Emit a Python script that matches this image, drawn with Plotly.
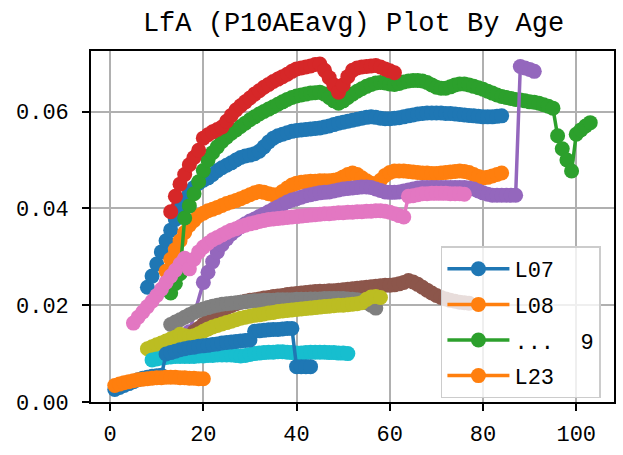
import plotly.graph_objects as go

# ages and LfA (P10AEavg) values, one pair per line
l07_age = list(range(8, 85))
l07_val = [0.0237, 0.0260, 0.0285, 0.0310, 0.0333, 0.0355, 0.0377, 0.0400, 0.0418, 0.0432,
           0.0443, 0.0452, 0.0458, 0.0463, 0.0470, 0.0478, 0.0484, 0.0489, 0.0494, 0.0500,
           0.0505, 0.0508, 0.0510, 0.0513, 0.0518, 0.0527, 0.0537, 0.0545, 0.0550, 0.0553,
           0.0556, 0.0559, 0.0561, 0.0562, 0.0563, 0.0564, 0.0565, 0.0566, 0.0568, 0.0570,
           0.0573, 0.0576, 0.0578, 0.0580, 0.0582, 0.0584, 0.0586, 0.0588, 0.0589, 0.0588,
           0.0586, 0.0585, 0.0585, 0.0586, 0.0587, 0.0589, 0.0591, 0.0593, 0.0595, 0.0596,
           0.0597, 0.0597, 0.0597, 0.0597, 0.0596, 0.0596, 0.0595, 0.0594, 0.0593, 0.0592,
           0.0591, 0.0590, 0.0589, 0.0589, 0.0589, 0.0590, 0.0591]

l08_age = list(range(12, 85))
l08_val = [0.0270, 0.0295, 0.0315, 0.0333, 0.0350, 0.0365, 0.0375, 0.0385, 0.0390, 0.0395,
           0.0398, 0.0402, 0.0406, 0.0410, 0.0413, 0.0416, 0.0420, 0.0424, 0.0428, 0.0432,
           0.0435, 0.0433, 0.0430, 0.0428, 0.0428, 0.0435, 0.0442, 0.0448, 0.0452, 0.0454,
           0.0455, 0.0456, 0.0456, 0.0457, 0.0457, 0.0457, 0.0458, 0.0460, 0.0465, 0.0470,
           0.0473, 0.0470, 0.0463, 0.0457, 0.0452, 0.0450, 0.0458, 0.0468, 0.0474, 0.0477,
           0.0477, 0.0477, 0.0476, 0.0475, 0.0474, 0.0473, 0.0473, 0.0472, 0.0472, 0.0473,
           0.0474, 0.0475, 0.0476, 0.0477, 0.0476, 0.0474, 0.0470, 0.0466, 0.0463, 0.0464,
           0.0467, 0.0470, 0.0473]

l09_age = list(range(13, 104))
l09_val = [0.0225, 0.0245, 0.0265, 0.0380, 0.0405, 0.0430, 0.0455, 0.0478, 0.0500, 0.0515,
           0.0527, 0.0538, 0.0547, 0.0555, 0.0562, 0.0569, 0.0576, 0.0583, 0.0589, 0.0595,
           0.0600, 0.0605, 0.0610, 0.0615, 0.0620, 0.0625, 0.0629, 0.0632, 0.0634, 0.0636,
           0.0638, 0.0639, 0.0640, 0.0636, 0.0629, 0.0622, 0.0617, 0.0622, 0.0629, 0.0636,
           0.0642, 0.0647, 0.0652, 0.0656, 0.0659, 0.0660, 0.0659, 0.0657, 0.0656, 0.0658,
           0.0661, 0.0663, 0.0664, 0.0664, 0.0663, 0.0660, 0.0655, 0.0650, 0.0648, 0.0648,
           0.0651, 0.0655, 0.0657, 0.0657, 0.0655, 0.0652, 0.0649, 0.0646, 0.0642, 0.0638,
           0.0634, 0.0631, 0.0629, 0.0627, 0.0625, 0.0624, 0.0622, 0.0620, 0.0619, 0.0617,
           0.0614, 0.0611, 0.0607, 0.0550, 0.0523, 0.0500, 0.0477, 0.0553, 0.0562, 0.0570,
           0.0577]

l10_age = list(range(13, 62))
l10_val = [0.0393, 0.0425, 0.0450, 0.0470, 0.0490, 0.0505, 0.0520, 0.0545, 0.0552, 0.0558,
           0.0563, 0.0568, 0.0580, 0.0592, 0.0603, 0.0612, 0.0620, 0.0628, 0.0636, 0.0643,
           0.0650, 0.0656, 0.0662, 0.0667, 0.0672, 0.0677, 0.0683, 0.0688, 0.0690, 0.0692,
           0.0694, 0.0697, 0.0698, 0.0685, 0.0670, 0.0655, 0.0640, 0.0655, 0.0672, 0.0685,
           0.0690, 0.0692, 0.0693, 0.0694, 0.0695, 0.0692, 0.0688, 0.0684, 0.0680]

l11_age = [17] + list(range(20, 92))
l11_val = [0.0145,
           0.0247, 0.0268, 0.0290, 0.0310, 0.0325, 0.0337, 0.0347, 0.0355, 0.0362, 0.0368,
           0.0374, 0.0378, 0.0383, 0.0388, 0.0393, 0.0398, 0.0403, 0.0408, 0.0413, 0.0417,
           0.0420, 0.0423, 0.0426, 0.0428, 0.0430, 0.0432, 0.0433, 0.0434, 0.0436, 0.0438,
           0.0440, 0.0441, 0.0442, 0.0443, 0.0444, 0.0444, 0.0443, 0.0440, 0.0437, 0.0434,
           0.0433, 0.0433, 0.0434, 0.0436, 0.0438, 0.0440, 0.0442, 0.0443, 0.0443, 0.0443,
           0.0443, 0.0443, 0.0443, 0.0443, 0.0443, 0.0443, 0.0443, 0.0442, 0.0440, 0.0436,
           0.0432, 0.0429, 0.0427, 0.0427, 0.0427, 0.0427, 0.0427, 0.0427,
           0.0693, 0.0690, 0.0687, 0.0683]

l12_age = list(range(18, 78))
l12_val = [0.0145, 0.0152, 0.0160, 0.0167, 0.0174, 0.0180, 0.0186, 0.0195, 0.0199, 0.0203,
           0.0206, 0.0208, 0.0210, 0.0211, 0.0213, 0.0215, 0.0216, 0.0218, 0.0219, 0.0220,
           0.0222, 0.0223, 0.0224, 0.0225, 0.0226, 0.0227, 0.0228, 0.0229, 0.0229, 0.0230,
           0.0230, 0.0231, 0.0232, 0.0233, 0.0234, 0.0235, 0.0236, 0.0237, 0.0238, 0.0239,
           0.0240, 0.0241, 0.0241, 0.0242, 0.0244, 0.0247, 0.0251, 0.0248, 0.0243, 0.0237,
           0.0231, 0.0225, 0.0220, 0.0216, 0.0213, 0.0210, 0.0208, 0.0206, 0.0205, 0.0204]

l13_age = list(range(5, 77))
l13_val = [0.0163, 0.0175, 0.0186, 0.0197, 0.0208, 0.0220, 0.0233, 0.0247, 0.0260, 0.0272,
           0.0285, 0.0297, 0.0275, 0.0295, 0.0310, 0.0320, 0.0328, 0.0335, 0.0340, 0.0345,
           0.0350, 0.0355, 0.0358, 0.0362, 0.0365, 0.0368, 0.0370, 0.0373, 0.0375, 0.0377,
           0.0378, 0.0379, 0.0380, 0.0381, 0.0382, 0.0383, 0.0384, 0.0385, 0.0386, 0.0387,
           0.0388, 0.0389, 0.0389, 0.0390, 0.0391, 0.0391, 0.0392, 0.0392, 0.0393, 0.0393,
           0.0394, 0.0394, 0.0395, 0.0395, 0.0394, 0.0392, 0.0389, 0.0385, 0.0382, 0.0425,
           0.0426, 0.0428, 0.0430, 0.0430, 0.0431, 0.0431, 0.0431, 0.0431, 0.0430, 0.0430,
           0.0430, 0.0429]

l14_age = list(range(13, 58))
l14_val = [0.0160, 0.0165, 0.0170, 0.0175, 0.0180, 0.0185, 0.0189, 0.0192, 0.0195, 0.0198,
           0.0200, 0.0202, 0.0203, 0.0204, 0.0205, 0.0206, 0.0207, 0.0208, 0.0209, 0.0209,
           0.0210, 0.0210, 0.0210, 0.0211, 0.0211, 0.0211, 0.0211, 0.0212, 0.0212, 0.0212,
           0.0213, 0.0213, 0.0213, 0.0214, 0.0214, 0.0214, 0.0214, 0.0214, 0.0213, 0.0212,
           0.0211, 0.0209, 0.0205, 0.0200, 0.0194]

l15_age = list(range(8, 59))
l15_val = [0.0110, 0.0114, 0.0118, 0.0122, 0.0126, 0.0130, 0.0134, 0.0140, 0.0137, 0.0135,
           0.0137, 0.0141, 0.0146, 0.0151, 0.0155, 0.0158, 0.0161, 0.0164, 0.0167, 0.0170,
           0.0173, 0.0175, 0.0177, 0.0179, 0.0180, 0.0182, 0.0184, 0.0185, 0.0187, 0.0188,
           0.0189, 0.0190, 0.0191, 0.0192, 0.0193, 0.0194, 0.0195, 0.0196, 0.0197, 0.0198,
           0.0199, 0.0200, 0.0200, 0.0201, 0.0202, 0.0203, 0.0205, 0.0212, 0.0217, 0.0218,
           0.0216]

l16_age = list(range(9, 52))
l16_val = [0.0087, 0.0089, 0.0091, 0.0092, 0.0093, 0.0094, 0.0094, 0.0094, 0.0094, 0.0094,
           0.0095, 0.0095, 0.0096, 0.0096, 0.0097, 0.0097, 0.0097, 0.0097, 0.0096, 0.0095,
           0.0096, 0.0098, 0.0100, 0.0101, 0.0102, 0.0103, 0.0103, 0.0104, 0.0104, 0.0103,
           0.0102, 0.0101, 0.0101, 0.0102, 0.0103, 0.0103, 0.0103, 0.0103, 0.0102, 0.0102,
           0.0101, 0.0101, 0.0100]

l17_age = list(range(1, 44))
l17_val = [0.0026, 0.0030, 0.0034, 0.0038, 0.0042, 0.0046, 0.0049, 0.0051, 0.0053, 0.0054,
           0.0055, 0.0099, 0.0102, 0.0105, 0.0108, 0.0110, 0.0112, 0.0113, 0.0115, 0.0116,
           0.0117, 0.0119, 0.0120, 0.0122, 0.0123, 0.0124, 0.0125, 0.0126, 0.0127, 0.0128,
           0.0146, 0.0147, 0.0148, 0.0149, 0.0150, 0.0150, 0.0151, 0.0152, 0.0152, 0.0073,
           0.0073, 0.0073, 0.0073]

l23_age = list(range(1, 21))
l23_val = [0.0034, 0.0037, 0.0040, 0.0042, 0.0044, 0.0046, 0.0047, 0.0048, 0.0049, 0.0050,
           0.0050, 0.0051, 0.0051, 0.0051, 0.0050, 0.0050, 0.0049, 0.0049, 0.0048, 0.0048]

x_ticks = [0, 20, 40, 60, 80, 100]
y_ticks = [0.00, 0.02, 0.04, 0.06]

# (legend label or None, ages, values, colour) in drawing order
series = [
    ("L07", l07_age, l07_val, "#1f77b4"),
    ("L08", l08_age, l08_val, "#ff7f0e"),
    ("...  9", l09_age, l09_val, "#2ca02c"),
    (None, l10_age, l10_val, "#d62728"),
    (None, l11_age, l11_val, "#9467bd"),
    (None, l12_age, l12_val, "#8c564b"),
    (None, l13_age, l13_val, "#e377c2"),
    (None, l14_age, l14_val, "#7f7f7f"),
    (None, l15_age, l15_val, "#bcbd22"),
    (None, l16_age, l16_val, "#17becf"),
    (None, l17_age, l17_val, "#1f77b4"),
    ("L23", l23_age, l23_val, "#ff7f0e"),
]

FONT = "Liberation Mono"

fig = go.Figure()
for i, (label, ages, vals, color) in enumerate(series):
    fig.add_trace(go.Scatter(
        x=ages, y=vals,
        mode="lines+markers",
        name=label if label else "",
        legendgroup="g%d" % i,
        showlegend=label is not None,
        line=dict(color=color, width=3.5),
        marker=dict(color=color, size=15),
    ))

axis_style = dict(
    showgrid=True, gridcolor="#b0b0b0", gridwidth=1.6,
    showline=True, linecolor="black", linewidth=1.6, mirror=True,
    ticks="outside", ticklen=7, tickwidth=1.6, tickcolor="black",
    tickfont=dict(family=FONT, size=22, color="black"),
    zeroline=False,
)

fig.update_layout(
    width=623, height=455,
    margin=dict(l=91, r=7, t=51, b=42),
    paper_bgcolor="white", plot_bgcolor="white",
    title=dict(text="LfA (P10AEavg) Plot By Age", x=0.5675, xanchor="center",
               y=1 - 22 / 455, yanchor="middle",
               font=dict(family=FONT, size=27, color="black")),
    xaxis=dict(range=[-4.1, 108.1], tickvals=x_ticks, ticklabelstandoff=4, **axis_style),
    yaxis=dict(range=[0, 0.0725], tickvals=y_ticks, tickformat=".2f",
               ticklabelstandoff=9, **axis_style),
    legend=dict(x=0.975, y=0.01, xanchor="right", yanchor="bottom",
                traceorder="grouped", tracegroupgap=4, itemwidth=62,
                bgcolor="rgba(255,255,255,0.8)", bordercolor="#cccccc", borderwidth=1.5,
                font=dict(family=FONT, size=22, color="black")),
    showlegend=True,
)

# drop the browser's default 8px body margin so the figure sits at the window corner
fig.write_html("out.html", config={"displayModeBar": False},
               post_script="document.body.style.margin='0';")
